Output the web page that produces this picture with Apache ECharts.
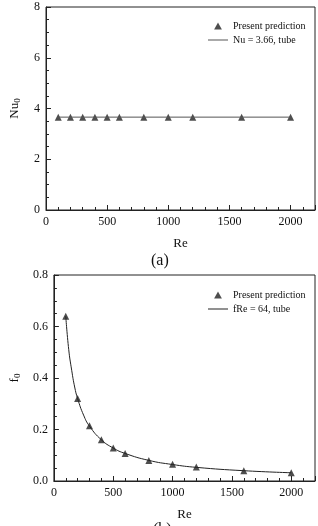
<!DOCTYPE html>
<html>
<head>
<meta charset="utf-8">
<script src="https://cdn.jsdelivr.net/npm/echarts@6/dist/echarts.min.js"></script>
<style>
  html, body { margin: 0; padding: 0; background: #fff; }
  #main { width: 318px; height: 526px; }
</style>
</head>
<body>
<div id="main"></div>
<script>
// Re values where the model was run
const reValues = [100, 200, 300, 400, 500, 600, 800, 1000, 1200, 1600, 2000]
// (a) Nusselt number, present prediction
const nuPred = [3.66, 3.66, 3.66, 3.66, 3.66, 3.66, 3.66, 3.66, 3.66, 3.66, 3.66]
// (a) reference line Nu = 3.66
const nuLineRe = [100, 2000]
const nuLine = [3.66, 3.66]
// (b) friction factor, present prediction
const fPred = [0.64, 0.32, 0.215, 0.16, 0.128, 0.107, 0.08, 0.065, 0.054, 0.04, 0.032]
// (b) reference curve fRe = 64
const fLineRe = [100, 125, 150, 175, 200, 250, 300, 400, 500, 600, 800, 1000, 1200, 1600, 2000]
const fLine = [0.64, 0.51, 0.43, 0.365, 0.32, 0.256, 0.213, 0.16, 0.128, 0.107, 0.08, 0.064, 0.053, 0.04, 0.032]

const FONT = 'Liberation Serif'
const pair = (xs, ys) => xs.map((x, i) => [x, ys[i]])

const TRI_ICON = 'path://M5,0 L10,9 L0,9 Z'
const LINE_ICON = 'path://M0,0 L20,0 L20,1 L0,1 Z'

const chart = echarts.init(document.getElementById('main'))

function xAx(gi) {
  return {
    gridIndex: gi, type: 'value', min: 0, max: 2200, interval: 500,
    name: 'Re', nameLocation: 'middle', nameGap: 27,
    nameTextStyle: { fontFamily: FONT, fontSize: 13, color: '#111' },
    axisLine: { lineStyle: { color: '#222' } },
    axisTick: { inside: true, length: 5, lineStyle: { color: '#222' } },
    minorTick: { show: true, splitNumber: 5, length: 3, lineStyle: { color: '#222' } },
    axisLabel: { fontFamily: FONT, fontSize: 12, color: '#111', margin: 6,
      formatter: v => v > 2000 ? '' : v },
    splitLine: { show: false }
  }
}
function yAx(gi, max, interval, name, gap, dec) {
  return {
    gridIndex: gi, type: 'value', min: 0, max: max, interval: interval,
    name: name, nameLocation: 'middle', nameGap: gap, nameRotate: 90,
    nameTextStyle: { fontFamily: FONT, fontSize: 13, color: '#111',
      rich: { s: { fontFamily: FONT, fontSize: 9, color: '#111', padding: [6, 0, 0, 0] } } },
    axisLine: { lineStyle: { color: '#222' } },
    axisTick: { inside: true, length: 5, lineStyle: { color: '#222' } },
    minorTick: { show: true, splitNumber: 4, length: 3, lineStyle: { color: '#222' } },
    axisLabel: { fontFamily: FONT, fontSize: 12, color: '#111', margin: 6,
      formatter: v => v.toFixed(dec) },
    splitLine: { show: false }
  }
}

function legendAt(top, predName, lineName) {
  return {
    data: [{ name: predName, icon: TRI_ICON }, { name: lineName, icon: LINE_ICON }],
    orient: 'vertical', left: 203, top: top,
    itemWidth: 20, itemHeight: 7, itemGap: 4,
    textStyle: { fontFamily: FONT, fontSize: 10, color: '#111' }
  }
}

const triSize = 7
chart.setOption({
  animation: false,
  title: [
    { text: '(a)', left: 146, top: 248, textStyle: { fontFamily: FONT, fontSize: 16, fontWeight: 'normal', color: '#111' } },
    { text: '(b)', left: 148, top: 517, textStyle: { fontFamily: FONT, fontSize: 16, fontWeight: 'normal', color: '#111' } }
  ],
  legend: [
    legendAt(16, 'Present prediction', 'Nu = 3.66, tube'),
    legendAt(285, 'Present prediction ', 'fRe = 64, tube')
  ],
  grid: [
    { left: 33, right: 2, top: 7, height: 203, show: true, borderColor: '#222', borderWidth: 1 },
    { left: 42, right: 2, top: 275, height: 206, show: true, borderColor: '#222', borderWidth: 1 }
  ],
  xAxis: [xAx(0), xAx(1)],
  yAxis: [
    yAx(0, 8, 2, 'Nu{s|0}', 24, 0),
    yAx(1, 0.8, 0.2, 'f{s|0}', 31, 1)
  ],
  series: [
    { name: 'Nu = 3.66, tube', type: 'line', xAxisIndex: 0, yAxisIndex: 0,
      data: pair(nuLineRe, nuLine), symbol: 'none',
      itemStyle: { color: '#555' }, lineStyle: { color: '#555', width: 1 } },
    { name: 'Present prediction', type: 'scatter', xAxisIndex: 0, yAxisIndex: 0,
      data: pair(reValues, nuPred), symbol: 'triangle', symbolSize: triSize, itemStyle: { color: '#222' } },
    { name: 'fRe = 64, tube', type: 'line', xAxisIndex: 1, yAxisIndex: 1, smooth: true,
      data: pair(fLineRe, fLine), symbol: 'none',
      itemStyle: { color: '#222' }, lineStyle: { color: '#222', width: 1 } },
    { name: 'Present prediction ', type: 'scatter', xAxisIndex: 1, yAxisIndex: 1,
      data: pair(reValues, fPred), symbol: 'triangle', symbolSize: triSize, itemStyle: { color: '#222' } }
  ]
})
</script>
</body>
</html>
